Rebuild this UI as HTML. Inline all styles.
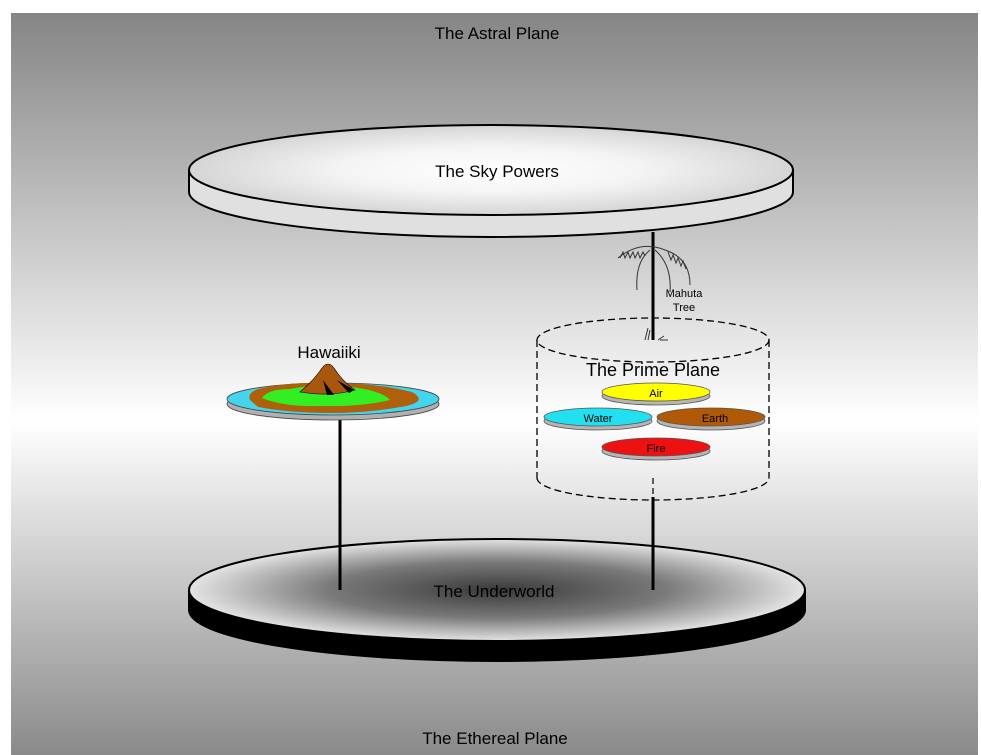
<!DOCTYPE html>
<html><head><meta charset="utf-8"><style>
html,body{margin:0;padding:0;background:#fff;}
svg{display:block;font-family:"Liberation Sans",sans-serif;}
</style></head><body>
<svg width="981" height="755" viewBox="0 0 981 755" xmlns="http://www.w3.org/2000/svg">
<defs>
<linearGradient id="bg" x1="0" y1="0" x2="0" y2="1">
<stop offset="0" stop-color="#858585"/>
<stop offset="0.55" stop-color="#ffffff"/>
<stop offset="1" stop-color="#8a8a8a"/>
</linearGradient>
<radialGradient id="sky" cx="0.5" cy="0.5" r="0.5">
<stop offset="0" stop-color="#ffffff"/>
<stop offset="0.5" stop-color="#f4f4f4"/>
<stop offset="1" stop-color="#d5d5d5"/>
</radialGradient>
<radialGradient id="uw" cx="0.5" cy="0.5" r="0.5">
<stop offset="0" stop-color="#3a3a3a"/>
<stop offset="0.55" stop-color="#7a7a7a"/>
<stop offset="1" stop-color="#e4e4e4"/>
</radialGradient>
</defs>
<rect x="11" y="13" width="967" height="742" fill="url(#bg)"/>
<text x="497" y="39" font-size="17" text-anchor="middle">The Astral Plane</text>
<text x="495" y="744" font-size="17" text-anchor="middle">The Ethereal Plane</text>

<!-- Sky disk -->
<path d="M189,170 L189,192 A302,45 0 0 0 793,192 L793,170 Z" fill="#e0e0e0" stroke="#000" stroke-width="2"/>
<ellipse cx="491" cy="170" rx="302" ry="45" fill="url(#sky)" stroke="#000" stroke-width="2"/>
<text x="497" y="177" font-size="17" text-anchor="middle">The Sky Powers</text>

<!-- Underworld -->
<path d="M189,590 L189,610 A308,51 0 0 0 805,610 L805,590 Z" fill="#000" stroke="#000" stroke-width="2"/>
<ellipse cx="497" cy="590" rx="308" ry="51" fill="url(#uw)" stroke="#000" stroke-width="2"/>
<text x="494" y="597" font-size="17" text-anchor="middle">The Underworld</text>

<!-- poles -->
<line x1="340" y1="415" x2="340" y2="590" stroke="#000" stroke-width="3"/>
<line x1="653" y1="497" x2="653" y2="590" stroke="#000" stroke-width="3"/>
<line x1="653" y1="232" x2="653" y2="340" stroke="#000" stroke-width="3"/>
<line x1="653" y1="478" x2="653" y2="497" stroke="#000" stroke-width="1.2" stroke-dasharray="6,4"/>

<!-- palm -->
<g fill="none" stroke="#333" stroke-width="1">
<path d="M618,258 Q640,240 665,250 Q690,258 690,285"/>
<path d="M620,258 l3,-6 l2,6 l3,-6 l2,6 l3,-6 l2,6 l3,-6 l2,6 l3,-6 l2,4"/>
<path d="M650,250 Q635,262 637,290"/>
<path d="M655,250 Q672,265 670,292"/>
<path d="M668,252 l3,8 l2,-5 l3,8 l2,-5 l3,8 l2,-5 l3,8"/>
<path d="M645,340 l3,-12 M648,340 l2,-10 M658,340 l6,-4 M660,340 l8,0"/>
</g>
<text x="684" y="297" font-size="11" text-anchor="middle">Mahuta</text>
<text x="684" y="311" font-size="11" text-anchor="middle">Tree</text>

<!-- Prime plane cylinder -->
<g fill="none" stroke="#000" stroke-width="1.3" stroke-dasharray="7,4">
<ellipse cx="653" cy="340" rx="116" ry="22"/>
<line x1="537" y1="340" x2="537" y2="478"/>
<line x1="769" y1="340" x2="769" y2="478"/>
<path d="M537,478 A116,22 0 0 0 769,478"/>
</g>
<text x="653" y="376" font-size="18" text-anchor="middle">The Prime Plane</text>

<g stroke="#555" stroke-width="0.8">
<ellipse cx="656" cy="396" rx="54" ry="9" fill="#b5b5b5"/>
<ellipse cx="656" cy="392" rx="54" ry="9" fill="#ffff00"/>
<ellipse cx="598" cy="421" rx="54" ry="9" fill="#b5b5b5"/>
<ellipse cx="598" cy="417" rx="54" ry="9" fill="#22e0f0"/>
<ellipse cx="711" cy="421" rx="54" ry="9" fill="#b5b5b5"/>
<ellipse cx="711" cy="417" rx="54" ry="9" fill="#b05a08"/>
<ellipse cx="656" cy="451" rx="54" ry="9" fill="#b5b5b5"/>
<ellipse cx="656" cy="447" rx="54" ry="9" fill="#ee1111"/>
</g>
<text x="656" y="397" font-size="11" text-anchor="middle">Air</text>
<text x="598" y="422" font-size="11" text-anchor="middle">Water</text>
<text x="715" y="422" font-size="11" text-anchor="middle">Earth</text>
<text x="656" y="452" font-size="11" text-anchor="middle">Fire</text>

<!-- Hawaiiki -->
<text x="329" y="358" font-size="17" text-anchor="middle">Hawaiiki</text>
<ellipse cx="333" cy="404" rx="106" ry="16" fill="#b0b0b0" stroke="#444" stroke-width="0.8"/>
<ellipse cx="333" cy="399" rx="106" ry="16" fill="#44d4ee" stroke="#444" stroke-width="0.8"/>
<path d="M250,400 Q246,390 268,387 Q300,381 330,384 Q372,382 412,392 Q428,401 406,406 Q370,413 330,413 Q290,413 258,407 Z" fill="#b0600a"/>
<path d="M262,398 Q268,389 290,389 Q320,383 352,387 Q382,391 390,400 Q362,407 320,406 Q284,407 262,398 Z" fill="#33ee22"/>
<path d="M300,392 Q314,380 322,368 Q328,360 334,368 Q343,382 355,390 Q330,397 300,392 Z" fill="#a8570d" stroke="#000" stroke-width="0.6"/>
<path d="M323,380 L327,395 L334,395 Z M337,380 L349,393 L354,390 Z" fill="#000"/>
</svg>
</body></html>
